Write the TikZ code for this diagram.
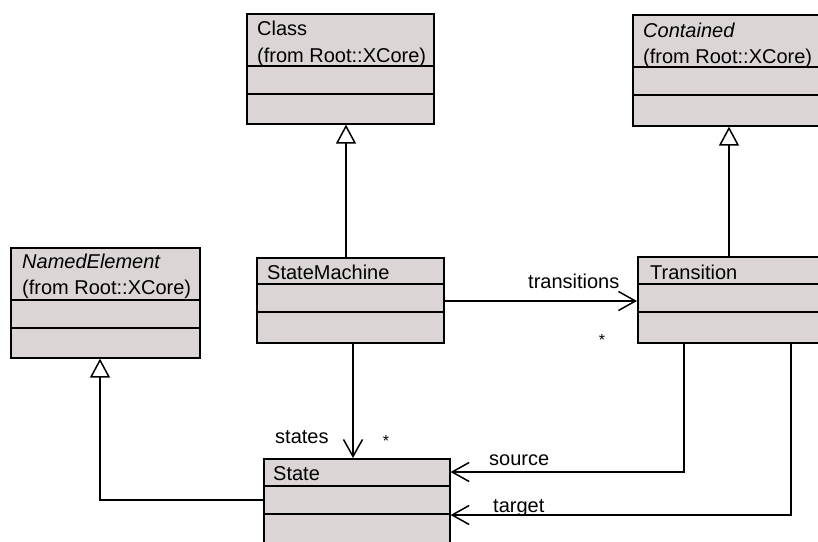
\documentclass[tikz,border=0pt]{standalone}
\usepackage{fontspec}
\setmainfont{Liberation Sans}
\usetikzlibrary{arrows.meta}
\definecolor{boxfill}{RGB}{219,213,213}
\begin{document}
\begin{tikzpicture}[x=1pt,y=-1pt,
  umlbox/.style={draw=black, line width=1.6pt, fill=boxfill, rectangle, inner sep=0pt, anchor=north west},
  divider/.style={line width=1.6pt},
  lbl/.style={inner sep=0pt, anchor=base west, font=\fontsize{20}{24}\selectfont},
  star/.style={inner sep=0pt, anchor=base, font=\fontsize{16}{20}\selectfont},
  conn/.style={line width=1.5pt},
  gen/.style={conn, -{Triangle[fill=white, length=19pt, width=20pt]}},
  nav/.style={conn, -{Straight Barb[length=17pt, width=19pt]}}]
\path[use as bounding box, clip] (0,0) rectangle (818,541);

% boxes
\node[umlbox, minimum width=187pt, minimum height=110pt] (cls) at (246,13) {};
\draw[divider] (246,66) -- (433,66) (246,94) -- (433,94);
\node[umlbox, minimum width=200pt, minimum height=111pt] (ct) at (632,14) {};
\draw[divider] (632,67) -- (832,67) (632,95) -- (832,95);
\node[umlbox, minimum width=189pt, minimum height=110pt] (ne) at (10,247) {};
\draw[divider] (10,300) -- (199,300) (10,328) -- (199,328);
\node[umlbox, minimum width=187pt, minimum height=85pt] (sm) at (256,257) {};
\draw[divider] (256,284) -- (443,284) (256,312) -- (443,312);
\node[umlbox, minimum width=200pt, minimum height=86pt] (tr) at (637,256) {};
\draw[divider] (637,284) -- (837,284) (637,312) -- (837,312);
\node[umlbox, minimum width=186pt, minimum height=86pt] (st) at (263,458) {};
\draw[divider] (263,486) -- (449,486) (263,514) -- (449,514);

% box texts
\node[lbl] (clsA) at (257,35) {Class};
\node[lbl] (clsB) at (257,62) {(from Root::XCore)};
\node[lbl] (ctA) at (643,37) {\itshape Contained};
\node[lbl] (ctB) at (643,63) {(from Root::XCore)};
\node[lbl] (neA) at (22,268) {\itshape NamedElement};
\node[lbl] (neB) at (22,294) {(from Root::XCore)};
\node[lbl] (smA) at (267,279) {StateMachine};
\node[lbl] (trA) at (650,279) {Transition};
\node[lbl] (stA) at (273,480) {State};

% connectors
\coordinate (p1) at (346,0);
\draw[gen] (sm.north -| p1) -- (cls.south -| p1);
\coordinate (p2) at (729,0);
\draw[gen] (tr.north -| p2) -- (ct.south -| p2);
\coordinate (p3) at (100,500);
\draw[gen] (st.west |- p3) -- (p3) -- (ne.south -| p3);
\coordinate (p4) at (0,301);
\draw[nav] (sm.east |- p4) -- (tr.west |- p4);
\coordinate (p5) at (353,0);
\draw[nav] (sm.south -| p5) -- (st.north -| p5);
\coordinate (p6) at (684,472);
\draw[nav] (tr.south -| p6) -- (p6) -- (st.east |- p6);
\coordinate (p7) at (791,515);
\draw[nav] (tr.south -| p7) -- (p7) -- (st.east |- p7);

% connector labels
\node[lbl] (l1) at (528,288) {transitions};
\node[star] (l2) at (602,345) {*};
\node[lbl] (l3) at (275,443) {states};
\node[star] (l4) at (386,446) {*};
\node[lbl] (l5) at (489,465) {source};
\node[lbl] (l6) at (493,512) {target};
\end{tikzpicture}
\end{document}
